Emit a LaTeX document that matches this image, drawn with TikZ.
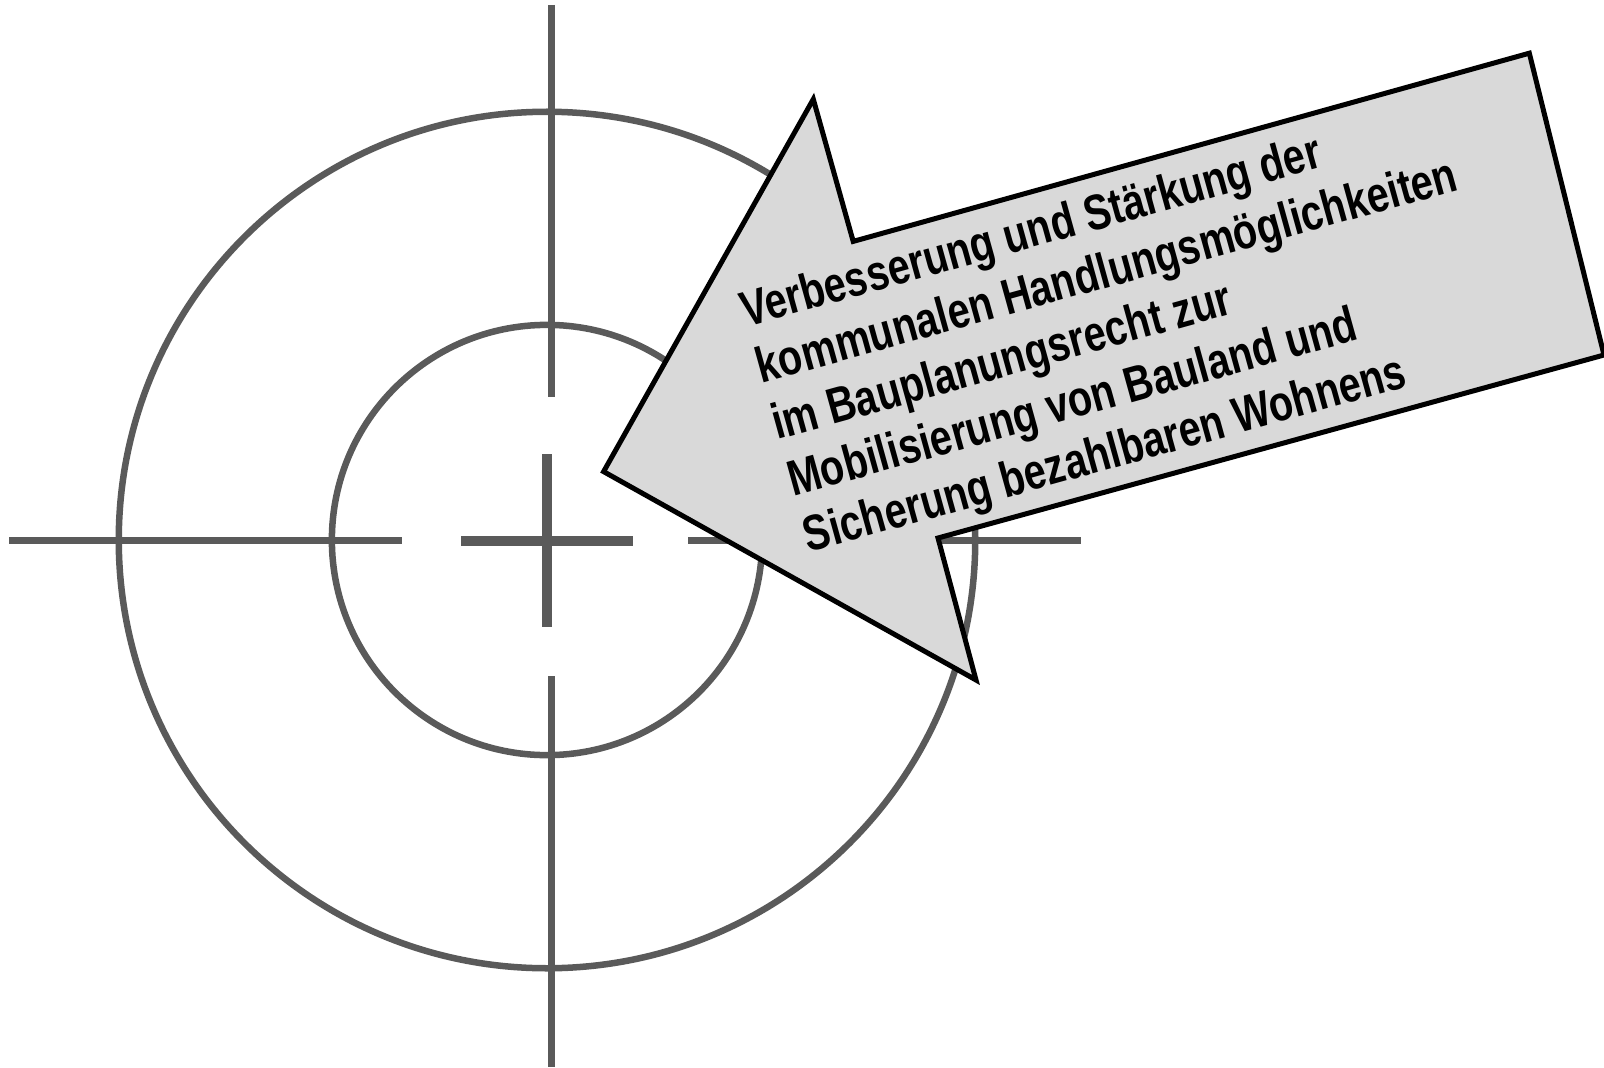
\documentclass[tikz,border=0pt]{standalone}
\usepackage{fontspec}
\newfontfamily\bannerfont[FakeStretch=0.79]{Liberation Sans}
\usepackage{tikz}
\usetikzlibrary{positioning,calc}
\definecolor{aimgray}{RGB}{90,90,90}
\definecolor{bannergray}{RGB}{217,217,217}

\begin{document}
\begin{tikzpicture}[x=0.01cm,y=-0.01cm,
  aimline/.style={aimgray,line width=0.07cm},
  aimbar/.style={aimgray,line width=0.10cm},
  ring/.style={aimgray,line width=0.065cm},
  banner/.style={fill=bannergray,draw=black,line width=0.05cm},
  bannertext/.style={font=\bannerfont\bfseries\fontsize{14.23pt}{16.65pt}\selectfont,align=left,inner sep=0pt}]
  \useasboundingbox (0,0) rectangle (1604,1067);
  % ---------------- target ----------------
  \coordinate (mid) at (547,540);
  \draw[ring] (mid) circle[radius=4.28cm];
  \draw[ring] (mid) circle[radius=2.15cm];
  \draw[aimline] (551,5) -- (551,397);
  \draw[aimline] (551,676) -- (551,1067);
  \draw[aimline] (9,540) -- (402,540);
  \draw[aimline] (688,540) -- (1081,540);
  \draw[aimbar] (547,454) -- (547,627);
  \draw[aimbar] (461,541) -- (633,541);
  % ---------------- arrow ----------------
  \draw[banner] (603.6,471.6) -- (813.3,99.2) -- (853.2,241.4) -- (1529.3,53.2)
    -- (1604,355) -- (938,538) -- (976,680) -- cycle;
  % base anchor sits on the last line
  \node[bannertext,rotate=15.5,anchor=base west] (goal) at (808,553)
    {Verbesserung und Stärkung der\\kommunalen Handlungsmöglichkeiten\\im Bauplanungsrecht zur\\Mobilisierung von Bauland und\\Sicherung bezahlbaren Wohnens};
\end{tikzpicture}
\end{document}
